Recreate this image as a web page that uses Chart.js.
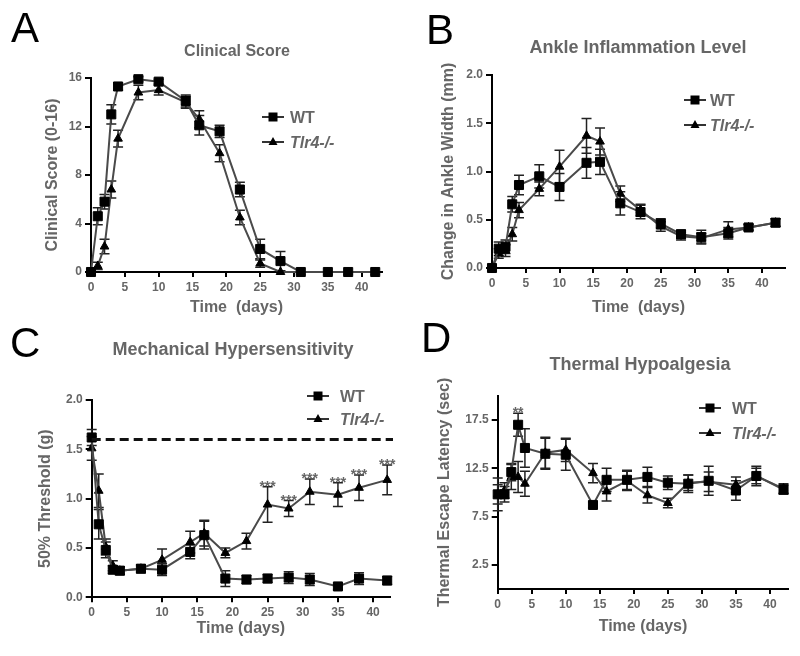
<!DOCTYPE html>
<html>
<head>
<meta charset="utf-8">
<script src="https://cdn.jsdelivr.net/npm/chart.js@4.4.0/dist/chart.umd.min.js"></script>
<style>
body { margin: 0; background: #fff; width: 800px; height: 656px; position: relative; overflow: hidden; }
canvas { position: absolute; }
.letter { position: absolute; font-family: "Liberation Sans", Arial, sans-serif; font-size: 42px; line-height: 42px; color: #000; }
</style>
</head>
<body>
<canvas id="chartA" width="400" height="328" style="left:0;top:0"></canvas>
<canvas id="chartB" width="400" height="328" style="left:400px;top:0"></canvas>
<canvas id="chartC" width="400" height="328" style="left:0;top:328px"></canvas>
<canvas id="chartD" width="400" height="328" style="left:400px;top:328px"></canvas>
<div class="letter" style="left:11px;top:7px">A</div>
<div class="letter" style="left:426px;top:9px">B</div>
<div class="letter" style="left:10px;top:322px">C</div>
<div class="letter" style="left:421px;top:317px">D</div>
<script>
// sampling days (same for all panels)
const days = [0, 1, 2, 3, 4, 7, 10, 14, 16, 19, 22, 25, 28, 31, 35, 38, 42];
const dayTicks = [0, 5, 10, 15, 20, 25, 30, 35, 40];

// A - clinical score
const clinicalWT    = [0, 4.6, 5.8, 13.0, 15.3, 15.9, 15.7, 14.1, 12.1, 11.6, 6.8, 1.9, 0.9, 0, 0, 0, 0];
const clinicalWTErr = [0, 0.7, 0.6, 0.8, 0.3, 0.2, 0.2, 0.5, 0.8, 0.5, 0.6, 0.8, 0.8, 0, 0, 0, 0];
const clinicalKO    = [0, 0.5, 2.1, 6.8, 11.0, 14.8, 15.0, 14.0, 12.6, 9.8, 4.5, 0.7, 0, 0, 0, 0, 0];
const clinicalKOErr = [0, 0.3, 0.6, 0.7, 0.7, 0.6, 0.4, 0.5, 0.7, 0.7, 0.6, 0.3, 0, 0, 0, 0, 0];
const clinicalTicks = [0, 4, 8, 12, 16];

// B - ankle width change (mm)
const ankleWT    = [0, 0.20, 0.22, 0.66, 0.86, 0.95, 0.84, 1.09, 1.10, 0.67, 0.58, 0.46, 0.35, 0.32, 0.36, 0.42, 0.47];
const ankleWTErr = [0, 0.07, 0.07, 0.08, 0.10, 0.12, 0.14, 0.16, 0.13, 0.12, 0.07, 0.05, 0.04, 0.07, 0.06, 0.03, 0.04];
const ankleKO    = [0, 0.15, 0.18, 0.35, 0.60, 0.82, 1.05, 1.37, 1.31, 0.77, 0.60, 0.43, 0.33, 0.31, 0.40, 0.42, 0.47];
const ankleKOErr = [0, 0.05, 0.06, 0.07, 0.08, 0.07, 0.17, 0.18, 0.14, 0.08, 0.06, 0.05, 0.04, 0.05, 0.08, 0.03, 0.04];
const ankleTicks = [0, 0.5, 1.0, 1.5, 2.0];

// C - 50% threshold (g)
const mechWT    = [1.62, 0.74, 0.48, 0.28, 0.27, 0.29, 0.28, 0.46, 0.63, 0.19, 0.18, 0.19, 0.20, 0.18, 0.11, 0.19, 0.17];
const mechWTErr = [0.08, 0.15, 0.08, 0.04, 0.04, 0.03, 0.06, 0.07, 0.14, 0.08, 0.04, 0.04, 0.06, 0.06, 0.03, 0.06, 0.04];
const mechKO    = [1.51, 1.08, 0.51, 0.32, 0.27, 0.29, 0.38, 0.56, 0.65, 0.45, 0.57, 0.94, 0.90, 1.07, 1.04, 1.11, 1.19];
const mechKOErr = [0.12, 0.17, 0.08, 0.05, 0.04, 0.04, 0.11, 0.11, 0.13, 0.05, 0.08, 0.18, 0.08, 0.13, 0.12, 0.13, 0.15];
const mechTicks = [0, 0.5, 1.0, 1.5, 2.0];
const mechBaseline = 1.6;
const mechStarDays = [25, 28, 31, 35, 38, 42];

// D - thermal escape latency (sec)
const thermWT    = [9.8, 9.8, 12.1, 17.0, 14.6, 14.0, 13.9, 8.7, 11.3, 11.3, 11.6, 11.0, 10.9, 11.2, 10.2, 11.7, 10.3];
const thermWTErr = [1.7, 0.8, 0.9, 1.2, 2.0, 1.6, 1.6, 0.3, 1.2, 1.0, 1.0, 0.7, 0.9, 1.5, 1.0, 1.0, 0.5];
const thermKO    = [9.8, 10.2, 11.6, 11.6, 10.9, 14.1, 14.4, 12.0, 10.1, 11.2, 9.7, 8.9, 11.0, 11.1, 10.8, 11.7, 10.4];
const thermKOErr = [1.0, 0.8, 1.3, 1.6, 1.3, 1.6, 1.2, 1.0, 1.0, 1.0, 0.8, 0.5, 0.8, 1.0, 0.8, 0.8, 0.5];
const thermTicks = [2.5, 7.5, 12.5, 17.5];
const thermStarDays = [3];

const FONT = '"Liberation Sans", Arial, sans-serif';
const GREY = '#666';
Chart.defaults.font.family = FONT;

// error bars behind the markers
const errorBars = {
    id: 'errorBars',
    beforeDatasetsDraw(chart){
        const {ctx, scales: {x, y}} = chart;
        ctx.save();
        ctx.strokeStyle = '#222';
        ctx.lineWidth = 1.5;
        chart.data.datasets.forEach(ds => {
            ds.data.forEach((p, i) => {
                const e = ds.errors[i];
                if(!e) return;
                const px = x.getPixelForValue(p.x);
                const top = y.getPixelForValue(p.y + e);
                const bot = y.getPixelForValue(p.y - e);
                ctx.beginPath();
                ctx.moveTo(px, top); ctx.lineTo(px, bot);
                ctx.moveTo(px - 5, top); ctx.lineTo(px + 5, top);
                ctx.moveTo(px - 5, bot); ctx.lineTo(px + 5, bot);
                ctx.stroke();
            });
        });
        ctx.restore();
    }
};

function drawMarker(ctx, style, x, y){
    ctx.fillStyle = '#000';
    ctx.beginPath();
    if(style === 'rect'){
        ctx.rect(x - 4.5, y - 4.5, 9, 9);
    } else {
        ctx.moveTo(x, y - 5);
        ctx.lineTo(x + 4.5, y + 3);
        ctx.lineTo(x - 4.5, y + 3);
        ctx.closePath();
    }
    ctx.fill();
}

// panel title, legend, baseline and significance stars
const panelText = {
    id: 'panelText',
    afterDraw(chart, args, opts){
        const {ctx, scales: {x, y}} = chart;
        ctx.save();
        ctx.fillStyle = GREY;
        ctx.textAlign = 'center';
        ctx.font = 'bold ' + opts.titleSize + 'px ' + FONT;
        ctx.fillText(opts.title, opts.titleX, opts.titleY);

        if(opts.baseline !== undefined){
            ctx.strokeStyle = '#111';
            ctx.lineWidth = 3;
            ctx.setLineDash([9, 5]);
            const py = y.getPixelForValue(opts.baseline);
            ctx.beginPath();
            ctx.moveTo(x.getPixelForValue(0), py);
            ctx.lineTo(chart.chartArea.right + 3, py);
            ctx.stroke();
            ctx.setLineDash([]);
        }

        if(opts.stars){
            const ds = chart.data.datasets[opts.stars.dataset];
            ctx.fillStyle = GREY;
            ctx.font = 'bold 14px ' + FONT;
            opts.stars.days.forEach(d => {
                const i = days.indexOf(d);
                const p = ds.data[i];
                const top = y.getPixelForValue(p.y + ds.errors[i]);
                ctx.fillText(opts.stars.text, x.getPixelForValue(p.x), top + 4);
            });
        }

        const lg = opts.legend;
        const rows = [[lg.y1, 'rect', 'WT', 'bold'], [lg.y2, 'triangle', 'Tlr4-/-', 'italic bold']];
        rows.forEach(([ly, style, label, weight]) => {
            ctx.strokeStyle = '#333';
            ctx.lineWidth = 2;
            ctx.beginPath();
            ctx.moveTo(lg.x - 11, ly); ctx.lineTo(lg.x + 11, ly);
            ctx.stroke();
            drawMarker(ctx, style, lg.x, ly);
            ctx.fillStyle = GREY;
            ctx.textAlign = 'left';
            ctx.font = weight + ' 16px ' + FONT;
            ctx.fillText(label, lg.textX, ly + 6);
        });
        ctx.restore();
    }
};

function series(label, vals, errs, style, radius){
    return {
        label: label,
        data: days.map((d, i) => ({x: d, y: vals[i]})),
        errors: errs,
        borderColor: '#4a4a4a',
        borderWidth: 2,
        pointStyle: style,
        pointRadius: radius,
        pointBackgroundColor: '#000',
        pointBorderColor: '#000',
        pointBorderWidth: 1,
        clip: false
    };
}

function buildPanel(id, cfg){
    new Chart(id, {
        type: 'line',
        data: {
            datasets: [
                series('WT', cfg.wt, cfg.wtErr, 'rect', 6.4),
                series('Tlr4-/-', cfg.ko, cfg.koErr, 'triangle', 5)
            ]
        },
        options: {
            responsive: false,
            animation: false,
            devicePixelRatio: 1,
            layout: { padding: cfg.pad },
            plugins: {
                legend: { display: false },
                tooltip: { enabled: false },
                panelText: cfg.text
            },
            scales: {
                x: {
                    type: 'linear',
                    min: 0,
                    max: cfg.xMax,
                    afterFit: s => { s.height = cfg.xH; },
                    afterBuildTicks: s => { s.ticks = dayTicks.map(v => ({value: v})); },
                    ticks: { color: GREY, font: {size: 12, weight: 'bold'}, padding: 3, maxRotation: 0, autoSkip: false },
                    grid: { display: true, drawOnChartArea: false, drawTicks: true, tickLength: 5, color: '#000', lineWidth: 2 },
                    border: { display: true, color: '#000', width: 2 },
                    title: { display: true, text: cfg.xTitle, color: GREY, font: {size: 16, weight: 'bold'}, padding: 0 }
                },
                y: {
                    type: 'linear',
                    min: cfg.yMin,
                    max: cfg.yMax,
                    afterFit: s => { s.width = cfg.yW; },
                    afterBuildTicks: s => { s.ticks = cfg.yTicks.map(v => ({value: v})); },
                    ticks: { color: GREY, font: {size: 12, weight: 'bold'}, padding: 3, callback: cfg.yFmt },
                    grid: { display: true, drawOnChartArea: false, drawTicks: true, tickLength: 6, color: '#000', lineWidth: 2 },
                    border: { display: true, color: '#000', width: 2 },
                    title: { display: true, text: cfg.yTitle, color: GREY, font: {size: 16, weight: 'bold'}, padding: 0 }
                }
            }
        },
        plugins: [errorBars, panelText]
    });
}

const oneDecimal = v => v.toFixed(1);

buildPanel('chartA', {
    wt: clinicalWT, wtErr: clinicalWTErr, ko: clinicalKO, koErr: clinicalKOErr,
    pad: {left: 43.4, right: 18, top: 78, bottom: 10.4}, yW: 47.6, xH: 45.6, xMax: 43,
    yMin: 0, yMax: 16, yTicks: clinicalTicks, yFmt: v => v,
    xTitle: 'Time  (days)', yTitle: 'Clinical Score (0-16)',
    text: { title: 'Clinical Score', titleSize: 16, titleX: 237, titleY: 56,
            legend: {x: 273, y1: 117, y2: 142, textX: 290} }
});

buildPanel('chartB', {
    wt: ankleWT, wtErr: ankleWTErr, ko: ankleKO, koErr: ankleKOErr,
    pad: {left: 38.9, right: 15, top: 75, bottom: 10.4}, yW: 53.1, xH: 49.6, xMax: 43.4,
    yMin: 0, yMax: 2, yTicks: ankleTicks, yFmt: oneDecimal,
    xTitle: 'Time  (days)', yTitle: 'Change in Ankle Width (mm)',
    text: { title: 'Ankle Inflammation Level', titleSize: 18, titleX: 238, titleY: 53,
            legend: {x: 295, y1: 100, y2: 125, textX: 310} }
});

buildPanel('chartC', {
    wt: mechWT, wtErr: mechWTErr, ko: mechKO, koErr: mechKOErr,
    pad: {left: 36.2, right: 10, top: 72, bottom: 17.4}, yW: 55.5, xH: 41.3, xMax: 42.4,
    yMin: 0, yMax: 2, yTicks: mechTicks, yFmt: oneDecimal,
    xTitle: 'Time (days)', yTitle: '50% Threshold (g)',
    text: { title: 'Mechanical Hypersensitivity', titleSize: 18, titleX: 233, titleY: 27,
            legend: {x: 318, y1: 68, y2: 91, textX: 340},
            baseline: mechBaseline,
            stars: {dataset: 1, days: mechStarDays, text: '***'} }
});

buildPanel('chartD', {
    wt: thermWT, wtErr: thermWTErr, ko: thermKO, koErr: thermKOErr,
    pad: {left: 35.4, right: 11.7, top: 67.8, bottom: 19.9}, yW: 62.3, xH: 47.1, xMax: 42.7,
    yMin: 0, yMax: 20, yTicks: thermTicks, yFmt: oneDecimal,
    xTitle: 'Time (days)', yTitle: 'Thermal Escape Latency (sec)',
    text: { title: 'Thermal Hypoalgesia', titleSize: 18, titleX: 240, titleY: 42,
            legend: {x: 310, y1: 80, y2: 105, textX: 332},
            stars: {dataset: 0, days: thermStarDays, text: '**'} }
});
</script>
</body>
</html>
